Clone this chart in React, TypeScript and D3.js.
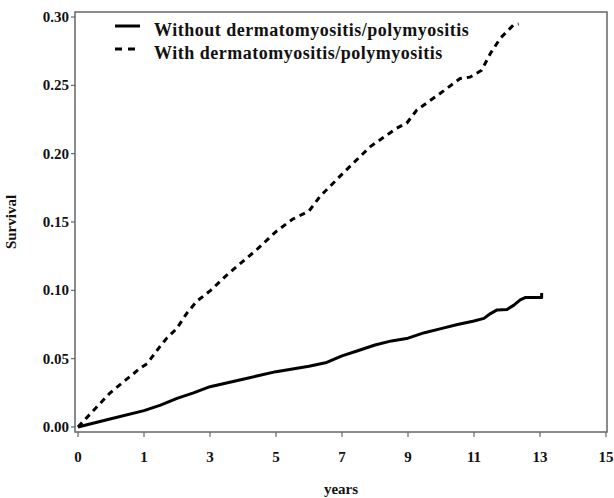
import React, { useRef, useEffect } from "react";
import { select, scaleLinear, line, curveLinear, format } from "d3";

// Kaplan-Meier style cumulative curves
const withoutYears = [0, 0.5, 1, 1.5, 2, 2.5, 3, 4, 5, 6, 6.5, 7, 7.5, 8, 8.5, 9, 9.5, 10, 10.5, 11, 11.3, 11.5, 11.7, 12, 12.2, 12.4, 12.55, 13.05, 13.05];
const withoutSurvival = [0, 0.006, 0.012, 0.016, 0.021, 0.025, 0.0295, 0.035, 0.0405, 0.0445, 0.047, 0.052, 0.056, 0.06, 0.063, 0.065, 0.069, 0.072, 0.075, 0.0776, 0.0795, 0.083, 0.0857, 0.086, 0.089, 0.093, 0.0947, 0.0947, 0.098];

const withYears = [0, 0.48, 0.94, 1.1, 1.48, 1.69, 1.99, 2.29, 2.6, 3.02, 3.5, 4.11, 4.41, 5, 5.5, 6, 6.33, 7.03, 7.85, 8.66, 8.96, 9.27, 9.97, 10.58, 10.88, 11.23, 11.5, 11.8, 12.05, 12.2, 12.35];
const withSurvival = [0, 0.0247, 0.043, 0.0465, 0.0588, 0.065, 0.072, 0.083, 0.092, 0.1, 0.111, 0.1235, 0.1296, 0.143, 0.152, 0.158, 0.1686, 0.1857, 0.205, 0.2187, 0.2223, 0.232, 0.244, 0.255, 0.256, 0.261, 0.2735, 0.2845, 0.2906, 0.2943, 0.2948];

const xTickValues = [0, 1, 3, 5, 7, 9, 11, 13, 15];
const yTickValues = [0, 0.05, 0.1, 0.15, 0.2, 0.25, 0.3];

const legendLabels = [
  "Without dermatomyositis/polymyositis",
  "With dermatomyositis/polymyositis",
];

const W = 614;
const H = 498;
const FONT = "'Liberation Serif', 'Times New Roman', serif";

const App = () => {
  const svgRef = useRef<SVGSVGElement>(null);

  useEffect(() => {
    const svg = select(svgRef.current);
    svg.selectAll("*").remove();

    const frame = { left: 75, right: 607, top: 12, bottom: 432 };

    // ticks are evenly spaced even though the labels skip (0,1,3,5...)
    const step = (606 - 78) / (xTickValues.length - 1);
    const xScale = scaleLinear()
      .domain(xTickValues)
      .range(xTickValues.map((_, i) => 78 + i * step));

    const yScale = scaleLinear().domain([0, 0.3]).range([427, 17]);

    svg
      .append("rect")
      .attr("width", W)
      .attr("height", H)
      .attr("fill", "#fff");

    // frame
    svg
      .append("rect")
      .attr("x", frame.left)
      .attr("y", frame.top)
      .attr("width", frame.right - frame.left)
      .attr("height", frame.bottom - frame.top)
      .attr("fill", "none")
      .attr("stroke", "#666")
      .attr("stroke-width", 1.5);

    // x ticks
    const xt = svg.append("g");
    xTickValues.forEach((v) => {
      xt.append("line")
        .attr("x1", xScale(v))
        .attr("x2", xScale(v))
        .attr("y1", frame.bottom)
        .attr("y2", frame.bottom + 5)
        .attr("stroke", "#666")
        .attr("stroke-width", 1.2);
      xt.append("text")
        .attr("x", xScale(v))
        .attr("y", 462)
        .attr("text-anchor", "middle")
        .attr("font-family", FONT)
        .attr("font-weight", "bold")
        .attr("font-size", 15)
        .attr("fill", "#111")
        .text(v);
    });

    // y ticks
    const fmt = format(".2f");
    const yt = svg.append("g");
    yTickValues.forEach((v) => {
      yt.append("line")
        .attr("x1", frame.left - 4)
        .attr("x2", frame.left)
        .attr("y1", yScale(v))
        .attr("y2", yScale(v))
        .attr("stroke", "#666")
        .attr("stroke-width", 1.2);
      yt.append("text")
        .attr("x", 69)
        .attr("y", yScale(v) + 5)
        .attr("text-anchor", "end")
        .attr("font-family", FONT)
        .attr("font-weight", "bold")
        .attr("font-size", 15)
        .attr("fill", "#111")
        .text(fmt(v));
    });

    // axis titles
    svg
      .append("text")
      .attr("x", (frame.left + frame.right) / 2)
      .attr("y", 494)
      .attr("text-anchor", "middle")
      .attr("font-family", FONT)
      .attr("font-weight", "bold")
      .attr("font-size", 15)
      .attr("fill", "#111")
      .text("years");

    svg
      .append("text")
      .attr("transform", `translate(16,${(frame.top + frame.bottom) / 2}) rotate(-90)`)
      .attr("text-anchor", "middle")
      .attr("font-family", FONT)
      .attr("font-weight", "bold")
      .attr("font-size", 15)
      .attr("fill", "#111")
      .text("Survival");

    // curves
    const path = line<[number, number]>()
      .x((d) => xScale(d[0]))
      .y((d) => yScale(d[1]))
      .curve(curveLinear);

    const withoutData = withoutYears.map((t, i) => [t, withoutSurvival[i]] as [number, number]);
    const withData = withYears.map((t, i) => [t, withSurvival[i]] as [number, number]);

    svg
      .append("path")
      .attr("d", path(withoutData))
      .attr("fill", "none")
      .attr("stroke", "#000")
      .attr("stroke-width", 3)
      .attr("stroke-linejoin", "round");

    svg
      .append("path")
      .attr("d", path(withData))
      .attr("fill", "none")
      .attr("stroke", "#000")
      .attr("stroke-width", 3)
      .attr("stroke-dasharray", "6,5");

    // legend
    const lg = svg.append("g");
    legendLabels.forEach((label, i) => {
      const y = 26 + i * 23;
      lg.append("line")
        .attr("x1", 115)
        .attr("x2", 140)
        .attr("y1", y)
        .attr("y2", y)
        .attr("stroke", "#000")
        .attr("stroke-width", 3)
        .attr("stroke-dasharray", i === 0 ? null : "7,6");
      lg.append("text")
        .attr("x", 154)
        .attr("y", y + 10)
        .attr("font-family", FONT)
        .attr("font-weight", "bold")
        .attr("font-size", 18)
        .attr("letter-spacing", 0.5)
        .attr("fill", "#111")
        .text(label);
    });
  }, []);

  return (
    <svg
      ref={svgRef}
      width={W}
      height={H}
      style={{ position: "absolute", left: 0, top: 0 }}
    />
  );
};

export default App;
